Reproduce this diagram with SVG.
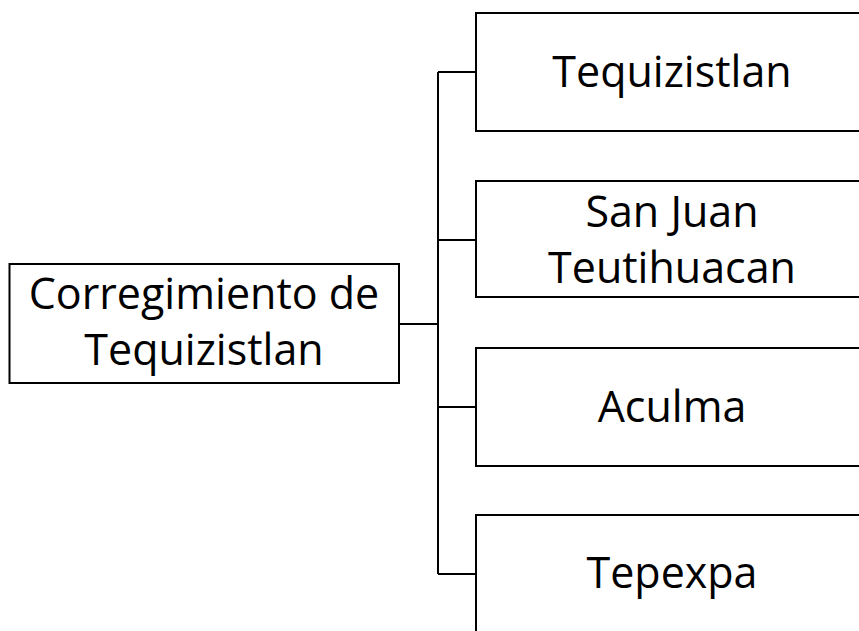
<svg xmlns="http://www.w3.org/2000/svg" width="859" height="631" viewBox="0 0 859 631">
<style>
.box{fill:#fff;stroke:#000;stroke-width:2}
.lbl{font-family:"Open Sans","Noto Sans",sans-serif;font-size:43px;fill:#000;text-anchor:middle}
.con{fill:none;stroke:#000;stroke-width:2}
</style>
<rect width="859" height="631" fill="#fff"/>
<g id="connectors">
<path class="con" d="M399 324 H438 M438 72 V574 M438 72 H476 M438 240 H476 M438 407 H476 M438 574 H476"/>
</g>
<g id="root">
<rect class="box" x="9.5" y="264" width="389.5" height="119"/>
<text class="lbl" x="204" y="309">Corregimiento de</text>
<text class="lbl" x="204" y="365">Tequizistlan</text>
</g>
<g id="n1">
<rect class="box" x="476" y="13" width="400" height="118"/>
<text class="lbl" x="672" y="87">Tequizistlan</text>
</g>
<g id="n2">
<rect class="box" x="476" y="181" width="400" height="116"/>
<text class="lbl" x="672" y="227">San Juan</text>
<text class="lbl" x="672" y="283">Teutihuacan</text>
</g>
<g id="n3">
<rect class="box" x="476" y="348" width="400" height="118"/>
<text class="lbl" x="672" y="422">Aculma</text>
</g>
<g id="n4">
<rect class="box" x="476" y="515" width="400" height="130"/>
<text class="lbl" x="672" y="588">Tepexpa</text>
</g>
</svg>
